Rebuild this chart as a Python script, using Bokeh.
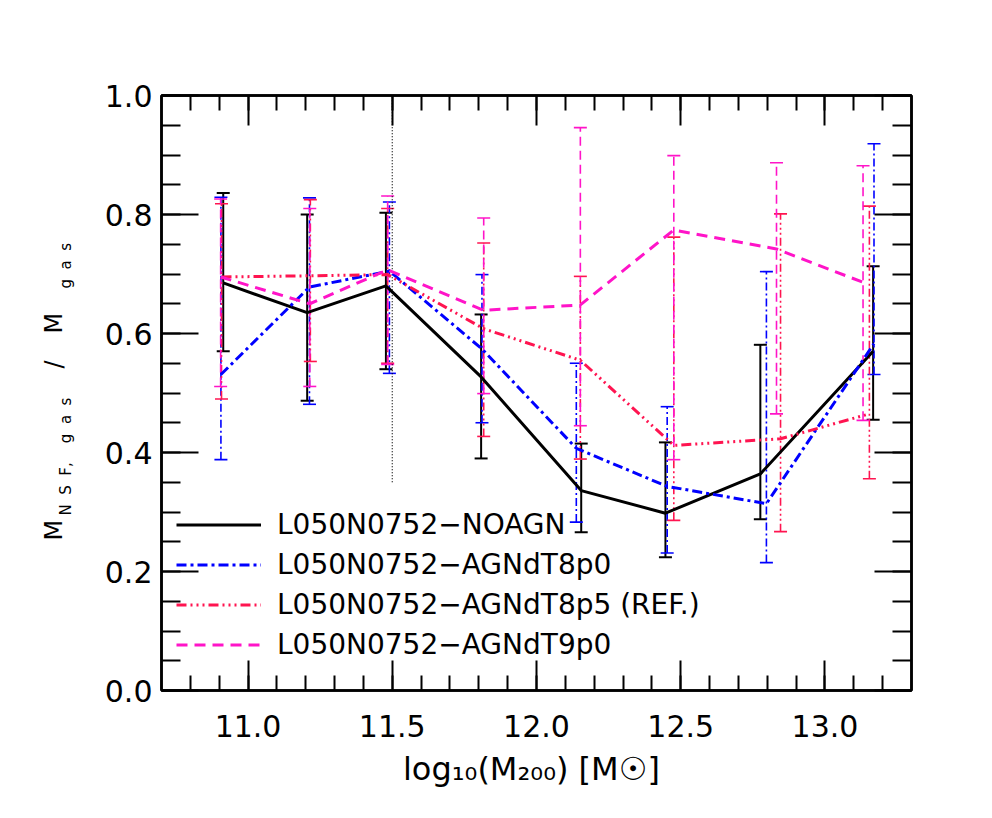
from bokeh.plotting import figure
from bokeh.layouts import row
from bokeh.models import (ColumnDataSource, Whisker, TeeHead, LinearAxis, FixedTicker,
                          PrintfTickFormatter, Legend, LegendItem, Range1d)
from bokeh.core.properties import value
from bokeh.embed import file_html
from bokeh.resources import INLINE
import math

# ---------------- data ----------------
series_names = ["L050N0752\u2212NOAGN", "L050N0752\u2212AGNdT8p0",
                "L050N0752\u2212AGNdT8p5 (REF.)", "L050N0752\u2212AGNdT9p0"]

x_noagn = [10.914, 11.205, 11.478, 11.808, 12.155, 12.447, 12.776, 13.167]
y_noagn = [0.685, 0.635, 0.680, 0.527, 0.336, 0.298, 0.364, 0.570]
lo_noagn = [0.570, 0.487, 0.540, 0.390, 0.266, 0.224, 0.288, 0.455]
hi_noagn = [0.836, 0.800, 0.803, 0.632, 0.415, 0.417, 0.581, 0.713]

x_t8p0 = [10.906, 11.213, 11.490, 11.811, 12.138, 12.453, 12.797, 13.170]
y_t8p0 = [0.531, 0.678, 0.705, 0.574, 0.407, 0.343, 0.314, 0.583]
lo_t8p0 = [0.388, 0.481, 0.533, 0.450, 0.283, 0.231, 0.215, 0.531]
hi_t8p0 = [0.829, 0.828, 0.821, 0.699, 0.550, 0.477, 0.704, 0.919]

x_t8p5 = [10.908, 11.216, 11.484, 11.817, 12.152, 12.476, 12.846, 13.154]
y_t8p5 = [0.695, 0.697, 0.699, 0.608, 0.555, 0.412, 0.423, 0.465]
lo_t8p5 = [0.490, 0.553, 0.550, 0.427, 0.389, 0.286, 0.267, 0.356]
hi_t8p5 = [0.818, 0.825, 0.810, 0.752, 0.696, 0.762, 0.801, 0.814]

x_t9p0 = [10.905, 11.214, 11.484, 11.817, 12.152, 12.476, 12.832, 13.132]
y_t9p0 = [0.695, 0.650, 0.707, 0.639, 0.648, 0.774, 0.742, 0.686]
lo_t9p0 = [0.511, 0.511, 0.548, 0.499, 0.445, 0.388, 0.465, 0.454]
hi_t9p0 = [0.826, 0.810, 0.831, 0.794, 0.946, 0.899, 0.887, 0.882]

# vertical dotted marker
marker_x = [11.5]
marker_y0 = [0.35]
marker_y1 = [1.0]

# axes ticks
x_major = [11.0, 11.5, 12.0, 12.5, 13.0]
x_minor = [round(10.8 + 0.1 * i, 2) for i in range(25)]
y_major = [0.0, 0.2, 0.4, 0.6, 0.8, 1.0]
y_minor = [round(0.05 * i, 2) for i in range(21)]

# y-axis title pieces: main text and subscripts
ytitle_main = ["M", "/", "M"]
ytitle_sub = ["N\u2007S\u2007F,\u2007\u2007g\u2007a\u2007s", "g\u2007a\u2007s"]

X_LO, X_HI = 10.7, 13.3
Y_LO, Y_HI = 0.0, 1.0
FW, FH = 750, 595
TOP, BOTTOM = 95, 110
LAB_W = 100

# ---------------- styles ----------------
colors = ["black", "#0000ff", "#ff1450", "#ff14c8"]
dashes = ["solid", "10 4 3 4", "10 4 2 4 2 4 2 4", "11 7"]
err_dashes = ["solid", "8 3 2 3", "8 3 2 3 2 3 2 3", "9 5"]

FONT = "DejaVu Sans"

p = figure(frame_width=FW, frame_height=FH,
           x_range=Range1d(X_LO, X_HI), y_range=Range1d(Y_LO, Y_HI),
           output_backend="svg", toolbar_location=None,
           min_border_left=161 - LAB_W, min_border_top=TOP, min_border_right=60,
           min_border_bottom=BOTTOM,
           x_axis_location=None, y_axis_location=None)
p.xgrid.visible = False
p.ygrid.visible = False
p.outline_line_color = "black"
p.outline_line_width = 2.5
p.background_fill_color = "white"
p.border_fill_color = "white"


def axis(kind, show):
    if kind in ("below", "above"):
        ticker = FixedTicker(ticks=x_major, minor_ticks=x_minor)
        tin, mtin = 30, 15
    else:
        ticker = FixedTicker(ticks=y_major, minor_ticks=y_minor)
        tin, mtin = 37, 19
    ax = LinearAxis(ticker=ticker, formatter=PrintfTickFormatter(format="%.1f"))
    ax.major_tick_in = tin
    ax.major_tick_out = 0
    ax.minor_tick_in = mtin
    ax.minor_tick_out = 0
    ax.major_tick_line_width = 2
    ax.minor_tick_line_width = 2
    ax.major_tick_line_color = "black"
    ax.minor_tick_line_color = "black"
    ax.axis_line_width = 2.5
    ax.axis_line_color = "black"
    ax.major_label_text_font = FONT
    ax.major_label_text_font_size = "30px"
    ax.major_label_text_color = "black"
    if not show:
        src = x_major if kind in ("below", "above") else y_major
        ax.major_label_overrides = {v: "" for v in src}
    return ax


bottom = axis("below", True)
bottom.major_label_standoff = 24
bottom.axis_label = "log\u2081\u2080(M\u2082\u2080\u2080)  [M\u2609]"
bottom.axis_label_text_font = FONT
bottom.axis_label_text_font_size = "32px"
bottom.axis_label_text_font_style = "normal"
bottom.axis_label_text_color = "black"
bottom.axis_label_standoff = 10
p.add_layout(bottom, "below")

left = axis("left", True)
left.major_label_standoff = 9
p.add_layout(left, "left")

p.add_layout(axis("above", False), "above")
p.add_layout(axis("right", False), "right")

# dotted vertical marker
p.segment(x0=marker_x, y0=marker_y0, x1=marker_x, y1=marker_y1,
          line_color="black", line_width=1.2, line_dash="1 2")

all_x = [x_noagn, x_t8p0, x_t8p5, x_t9p0]
all_y = [y_noagn, y_t8p0, y_t8p5, y_t9p0]
all_lo = [lo_noagn, lo_t8p0, lo_t8p5, lo_t9p0]
all_hi = [hi_noagn, hi_t8p0, hi_t8p5, hi_t9p0]

renderers = []
for i in range(4):
    src = ColumnDataSource(dict(x=all_x[i], y=all_y[i], lo=all_lo[i], hi=all_hi[i]))
    ew = 2 if i == 0 else 1.6
    w = Whisker(source=src, base="x", upper="hi", lower="lo", dimension="height",
                line_color=colors[i], line_width=ew, line_dash=err_dashes[i],
                upper_head=TeeHead(size=13, line_color=colors[i], line_width=ew),
                lower_head=TeeHead(size=13, line_color=colors[i], line_width=ew))
    p.add_layout(w)
    r = p.line("x", "y", source=src, line_color=colors[i], line_width=3, line_dash=dashes[i])
    renderers.append(r)

legend = Legend(items=[LegendItem(label=series_names[i], renderers=[renderers[i]]) for i in range(4)],
                location=(15, 26), orientation="vertical",
                label_text_font=FONT, label_text_font_size="28px", label_text_color="black",
                glyph_width=85, glyph_height=39, label_height=39, spacing=1,
                padding=0, margin=0, label_standoff=16,
                border_line_color=None, background_fill_alpha=0)
p.add_layout(legend)

# ---------------- y-axis title in a narrow side figure (pixel coordinates, frame-aligned) ----------------
lab = figure(frame_width=LAB_W, frame_height=FH, x_range=Range1d(0, LAB_W),
             y_range=Range1d(0, FH), output_backend="svg", toolbar_location=None,
             min_border_left=0, min_border_right=0, min_border_top=TOP, min_border_bottom=BOTTOM,
             x_axis_location=None, y_axis_location=None)
lab.xgrid.visible = False
lab.ygrid.visible = False
lab.outline_line_color = None
lab.background_fill_color = "white"
lab.border_fill_color = "white"

ang = math.pi / 2
lab.text(x=[53, 53, 53], y=[150, 322, 357], text=ytitle_main,
         angle=ang, text_font=value(FONT), text_font_size=value("24px"), text_color="black",
         text_align="left", text_baseline="middle")
lab.text(x=[65, 65], y=[175, 402], text=ytitle_sub,
         angle=ang, text_font=value(FONT), text_font_size=value("15px"), text_color="black",
         text_align="left", text_baseline="middle")

layout = row(lab, p)
open("out.html", "w").write(file_html(layout, INLINE))
